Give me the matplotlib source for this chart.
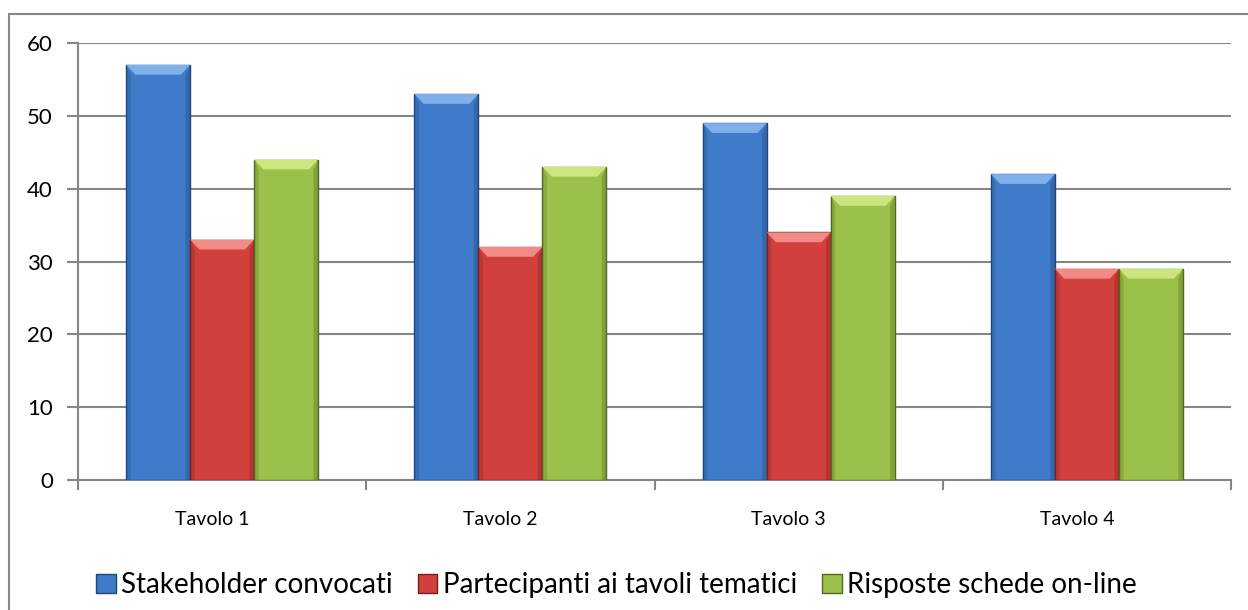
import matplotlib
matplotlib.use("Agg")
import matplotlib.pyplot as plt
import matplotlib.transforms as mtransforms
import numpy as np
from matplotlib.patches import Polygon, Rectangle

plt.rcParams['font.family'] = ['Lato', 'DejaVu Sans']

categories = ["Tavolo 1", "Tavolo 2", "Tavolo 3", "Tavolo 4"]
series_names = ["Stakeholder convocati", "Partecipanti ai tavoli tematici",
                "Risposte schede on-line"]
stakeholder = [57, 53, 49, 42]
partecipanti = [33, 32, 34, 29]
risposte = [44, 43, 39, 29]
yticks = [0, 10, 20, 30, 40, 50, 60]

values = [stakeholder, partecipanti, risposte]
faces = ["#3f7bc8", "#d2403d", "#9cc14a"]
tops = ["#7fb0ea", "#f28a86", "#cde57f"]
edges = ["#1f4677", "#7a1f1d", "#4f6a1c"]

fig = plt.figure(figsize=(12.48, 6.10), dpi=100)
ax = fig.add_axes([0.0625, 0.2131, 0.9240, 0.7164])

x = np.arange(len(categories))
w = 0.222
for i, vals in enumerate(values):
    xs = x + (i - 1) * w
    ax.bar(xs, vals, width=w, color=faces[i], edgecolor=edges[i],
           linewidth=1.0, zorder=3)
    # bevelled top and shaded sides of each bar
    bx = 0.032
    by = 1.35
    for xc, v in zip(xs, vals):
        l, r = xc - w / 2, xc + w / 2
        ax.add_patch(Polygon([(l, v), (r, v), (r - bx, v - by), (l + bx, v - by)],
                             closed=True, facecolor=tops[i], edgecolor="none",
                             zorder=4))
        ax.add_patch(Polygon([(l, 0), (l, v), (l + bx * 0.5, v - by), (l + bx * 0.5, 0)],
                             closed=True, facecolor=edges[i], alpha=0.25,
                             edgecolor="none", zorder=4))
        ax.add_patch(Polygon([(r, 0), (r, v), (r - bx * 0.5, v - by), (r - bx * 0.5, 0)],
                             closed=True, facecolor=edges[i], alpha=0.35,
                             edgecolor="none", zorder=4))

ax.set_xlim(-0.5, len(categories) - 0.5)
ax.set_ylim(0, 60)
ax.set_yticks(yticks)
ax.set_yticklabels([str(t) for t in yticks], fontsize=16)
ax.yaxis.grid(True, color="#868686", linewidth=1.5, zorder=0)
ax.set_axisbelow(True)

ax.set_xticks(x)
ax.set_xticklabels(categories, fontsize=14)
ax.set_xticks(np.arange(len(categories) + 1) - 0.5, minor=True)
ax.tick_params(axis="x", which="major", length=0, pad=22)
ax.tick_params(axis="x", which="minor", length=7, width=1.5, color="#868686")
ax.tick_params(axis="y", length=8, width=1.5, color="#868686", pad=10)

# category labels sit a little left of the group centre
shift = mtransforms.ScaledTranslation(-0.1, 0, fig.dpi_scale_trans)
for lab in ax.get_xticklabels():
    lab.set_transform(lab.get_transform() + shift)

for side in ["top", "right"]:
    ax.spines[side].set_visible(False)
for side in ["left", "bottom"]:
    ax.spines[side].set_color("#868686")
    ax.spines[side].set_linewidth(1.5)

# outer chart frame
fig.patches.append(Rectangle((0.0072, -0.05), 1.05, 0.05 + 0.977,
                             transform=fig.transFigure, fill=False,
                             edgecolor="#868686", linewidth=1.5))

handles = [Rectangle((0, 0), 1, 1, facecolor=faces[i], edgecolor=edges[i])
           for i in range(3)]
fig.legend(handles, series_names, loc="center", bbox_to_anchor=(0.494, 0.041),
           ncol=3, frameon=False, fontsize=20, handlelength=0.7,
           handleheight=0.7, handletextpad=0.2, columnspacing=0.9)

fig.savefig("out.png", dpi=100)
